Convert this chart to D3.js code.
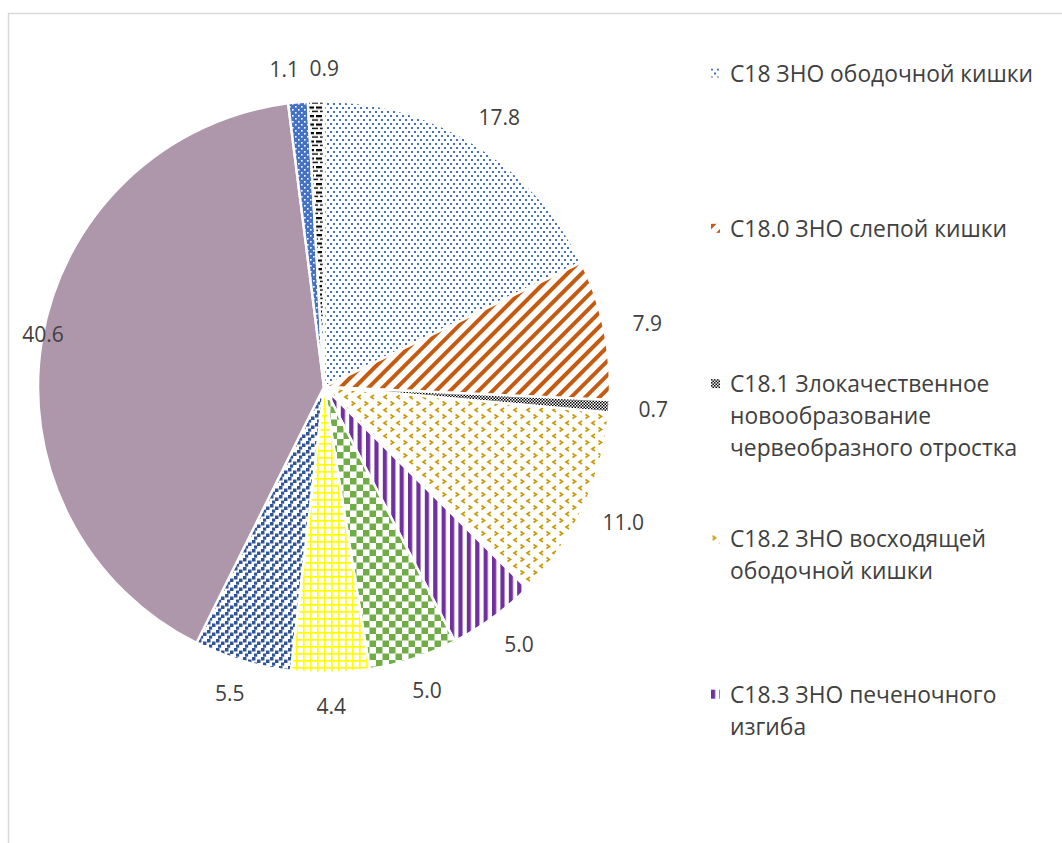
<!DOCTYPE html>
<html>
<head>
<meta charset="utf-8">
<script src="https://cdn.jsdelivr.net/npm/d3@7"></script>
<style>
  html, body { margin: 0; padding: 0; background: #fff; }
  svg { display: block; }
  text { font-family: "Open Sans", "Noto Sans", sans-serif; fill: #404040; }
</style>
</head>
<body>
<svg id="chart" width="1062" height="843"></svg>
<script>
// ---- data ----
const categories = [
  "C18 ЗНО ободочной кишки",
  "C18.0 ЗНО слепой кишки",
  "C18.1 Злокачественное новообразование червеобразного отростка",
  "C18.2 ЗНО восходящей ободочной кишки",
  "C18.3 ЗНО печеночного изгиба",
  "C18.4 ЗНО поперечной ободочной кишки",
  "C18.5 ЗНО селезеночного изгиба",
  "C18.6 ЗНО нисходящей ободочной кишки",
  "C18.7 ЗНО сигмовидной кишки",
  "C18.8 Поражение ободочной кишки, выходящее за пределы одной локализации",
  "C18.9 ЗНО ободочной кишки неуточненной части"
];
const values = [17.8, 7.9, 0.7, 11.0, 5.0, 5.0, 4.4, 5.5, 40.6, 1.1, 0.9];
const valueLabels = ["17.8", "7.9", "0.7", "11.0", "5.0", "5.0", "4.4", "5.5", "40.6", "1.1", "0.9"];

// ---- layout ----
const W = 1062, H = 843;
const cx = 324, cy = 387, R = 286;
const svg = d3.select("#chart");

// chart border (partially visible frame)
svg.append("rect").attr("x", 8.5).attr("y", 13.5).attr("width", W).attr("height", H)
  .attr("fill", "none").attr("stroke", "#d9d9d9").attr("stroke-width", 1.5);

// ---- patterns ----
const defs = svg.append("defs");
function makePattern(id, w, h, bg, draw, transform) {
  const p = defs.append("pattern").attr("id", id)
    .attr("patternUnits", "userSpaceOnUse").attr("width", w).attr("height", h);
  if (transform) p.attr("patternTransform", transform);
  if (bg) p.append("rect").attr("width", w).attr("height", h).attr("fill", bg);
  draw(p);
  return "url(#" + id + ")";
}
const gold = "#C99A06";
const fills = [
  // C18: small blue dots
  makePattern("p0", 6, 8, "#fff", p => {
    p.append("rect").attr("x", 0).attr("y", 0).attr("width", 2).attr("height", 2).attr("fill", "#4472C4");
    p.append("rect").attr("x", 3).attr("y", 4).attr("width", 2).attr("height", 2).attr("fill", "#4472C4");
  }),
  // C18.0: orange wide diagonal stripes
  makePattern("p1", 10, 10, "#fff", p => {
    p.append("rect").attr("x", 0).attr("y", 0).attr("width", 4).attr("height", 10).attr("fill", "#C55A11");
  }, "rotate(45)"),
  // C18.1: small black checker
  makePattern("p2", 3, 3, "#fff", p => {
    p.append("rect").attr("x", 0).attr("y", 0).attr("width", 1.5).attr("height", 1.5).attr("fill", "#000");
    p.append("rect").attr("x", 1.5).attr("y", 1.5).attr("width", 1.5).attr("height", 1.5).attr("fill", "#000");
  }),
  // C18.2: gold divots
  makePattern("p3", 13, 13, "#fff", p => {
    p.append("path").attr("d", "M1.5,1.5 L4.5,3.5 L1.5,5.5").attr("fill", "none").attr("stroke", gold).attr("stroke-width", 1.7);
    p.append("path").attr("d", "M11,8 L8,10 L11,12").attr("fill", "none").attr("stroke", gold).attr("stroke-width", 1.7);
  }),
  // C18.3: purple vertical stripes
  makePattern("p4", 8.4, 10, "#fff", p => {
    p.append("rect").attr("x", 0).attr("y", 0).attr("width", 4.2).attr("height", 10).attr("fill", "#7030A0");
  }),
  // C18.4: green large checkerboard
  makePattern("p5", 13, 13, "#fff", p => {
    p.append("rect").attr("x", 0).attr("y", 0).attr("width", 6.5).attr("height", 6.5).attr("fill", "#70AD47");
    p.append("rect").attr("x", 6.5).attr("y", 6.5).attr("width", 6.5).attr("height", 6.5).attr("fill", "#70AD47");
  }),
  // C18.5: yellow small grid
  makePattern("p6", 7, 7, "#fff", p => {
    p.append("rect").attr("x", 0).attr("y", 0).attr("width", 7).attr("height", 1.7).attr("fill", "#FFFF00");
    p.append("rect").attr("x", 0).attr("y", 0).attr("width", 1.7).attr("height", 7).attr("fill", "#FFFF00");
  }),
  // C18.6: dark blue confetti squares
  makePattern("p7", 9, 9, "#fff", p => {
    p.append("rect").attr("x", 0).attr("y", 0).attr("width", 3.5).attr("height", 3.5).attr("fill", "#2F5597");
    p.append("rect").attr("x", 5).attr("y", 2.5).attr("width", 3.5).attr("height", 3.5).attr("fill", "#2F5597");
    p.append("rect").attr("x", 2).attr("y", 5.5).attr("width", 3.2).attr("height", 3.2).attr("fill", "#2F5597");
  }),
  // C18.7: solid mauve
  "#AF97AB",
  // C18.8: blue with white dots
  makePattern("p9", 6, 6, "#4472C4", p => {
    p.append("rect").attr("x", 1).attr("y", 1).attr("width", 1.6).attr("height", 1.6).attr("fill", "#fff");
    p.append("rect").attr("x", 4).attr("y", 4).attr("width", 1.6).attr("height", 1.6).attr("fill", "#fff");
  }),
  // C18.9: black dashed horizontal
  makePattern("p10", 8, 8.5, "#fff", p => {
    p.append("rect").attr("x", 0).attr("y", 0).attr("width", 6).attr("height", 2.2).attr("fill", "#000");
    p.append("rect").attr("x", 4).attr("y", 4.3).attr("width", 6).attr("height", 1.4).attr("fill", "#000");
    p.append("rect").attr("x", -4).attr("y", 4.3).attr("width", 6).attr("height", 1.4).attr("fill", "#000");
  })
];

// ---- pie ----
const pie = d3.pie().sort(null).value(d => d)(values);
const arc = d3.arc().innerRadius(0).outerRadius(R);
const g = svg.append("g").attr("transform", `translate(${cx},${cy})`);
g.selectAll("path.slice").data(pie).join("path")
  .attr("class", "slice")
  .attr("d", arc)
  .attr("fill", (d, i) => fills[i])
  .attr("stroke", "#fff").attr("stroke-width", 2.5).attr("stroke-linejoin", "round");

// ---- value labels ----
const labelFont = 21;
const rx = R + 44, ry = R + 33;
let labels = pie.map((d, i) => {
  const a = (d.startAngle + d.endAngle) / 2;
  return { text: valueLabels[i], x: cx + rx * Math.sin(a), y: cy - ry * Math.cos(a), w: valueLabels[i].length * 11 + 6 };
});
// keep inside chart frame
labels.forEach(l => { l.x = Math.max(l.x, 8 + l.w / 2 + 10); });
// resolve overlaps between neighbouring labels by pushing them apart horizontally
for (let iter = 0; iter < 20; iter++) {
  for (let i = 0; i < labels.length; i++) {
    for (let j = i + 1; j < labels.length; j++) {
      const a = labels[i], b = labels[j];
      const minDx = (a.w + b.w) / 2 + 1;
      if (Math.abs(a.y - b.y) < 20 && Math.abs(a.x - b.x) < minDx) {
        const shift = (minDx - Math.abs(a.x - b.x)) / 2;
        if (a.x <= b.x) { a.x -= shift; b.x += shift; } else { a.x += shift; b.x -= shift; }
      }
    }
  }
}
svg.selectAll("text.vlabel").data(labels).join("text")
  .attr("class", "vlabel")
  .attr("x", d => d.x).attr("y", d => d.y)
  .attr("text-anchor", "middle").attr("dominant-baseline", "central")
  .attr("font-size", labelFont)
  .text(d => d.text);

// ---- legend ----
const legX = 730, legMarkX = 711, legY0 = 73, legStep = 155.3, lineH = 32, legFont = 22.8, maxW = 322;
const leg = svg.append("g");
categories.forEach((name, i) => {
  const y0 = legY0 + i * legStep;
  if (y0 > H - 10) return;
  const item = leg.append("g");
  item.append("g").attr("transform", `translate(${legMarkX},${y0 - 4.5})`)
    .append("rect").attr("width", 9).attr("height", 9).attr("fill", fills[i]);
  // greedy word wrap
  const words = name.split(" ");
  const lines = [];
  let cur = "";
  const meas = item.append("text").attr("font-size", legFont);
  words.forEach(w => {
    const test = cur ? cur + " " + w : w;
    meas.text(test);
    if (meas.node().getComputedTextLength() > maxW && cur) { lines.push(cur); cur = w; }
    else cur = test;
  });
  if (cur) lines.push(cur);
  meas.remove();
  lines.forEach((ln, k) => {
    item.append("text").attr("x", legX).attr("y", y0 + k * lineH)
      .attr("dominant-baseline", "central").attr("font-size", legFont).text(ln);
  });
});
</script>
</body>
</html>
